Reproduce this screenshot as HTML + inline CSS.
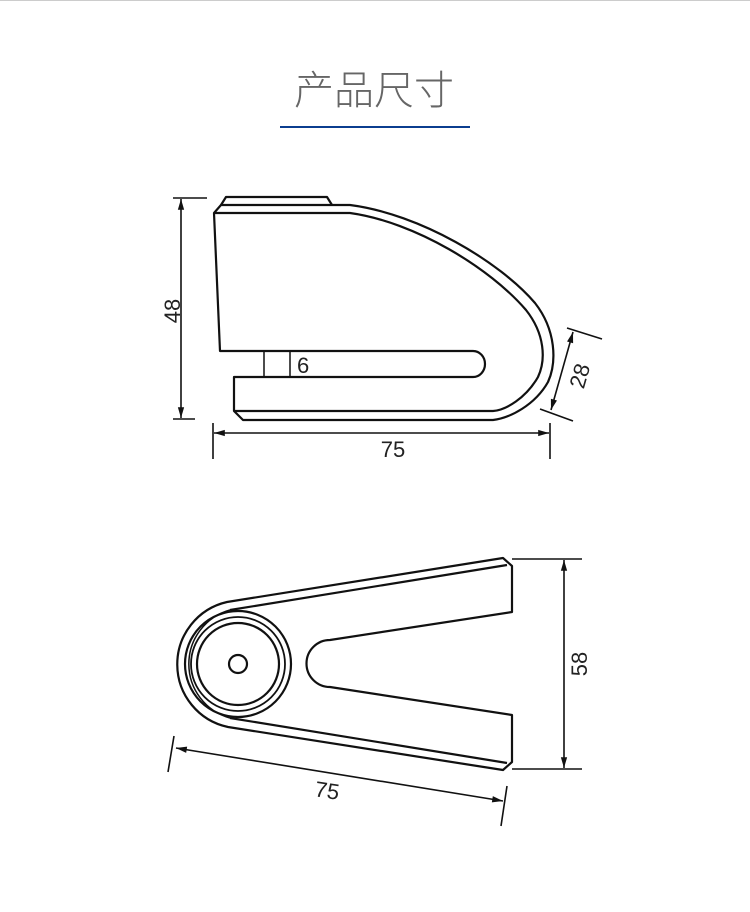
<!DOCTYPE html>
<html><head><meta charset="utf-8"><style>
html,body{margin:0;padding:0;background:#fff;width:750px;height:912px;overflow:hidden}
</style></head><body>
<svg width="750" height="912" viewBox="0 0 750 912" xmlns="http://www.w3.org/2000/svg" style="display:block">
<defs>
<marker id="a" viewBox="0 0 12 10" refX="12" refY="5" markerWidth="12" markerHeight="9" orient="auto-start-reverse" markerUnits="userSpaceOnUse"><path d="M0,1.5 L12,5 L0,8.5 z" fill="#111"/></marker>
</defs>
<line x1="0" y1="0.5" x2="750" y2="0.5" stroke="#ccc" stroke-width="1"/>
<text x="374" y="104" text-anchor="middle" font-family="'Liberation Sans','Noto Sans CJK SC',sans-serif" font-size="40" font-weight="300" fill="#666">产品尺寸</text>
<rect x="280" y="126" width="190" height="2" fill="#0b3d8f"/>

<g fill="none" stroke="#111" stroke-width="2.2" stroke-linejoin="round">
<path d="M221,205 L226,197 L327,197 L332,205"/>
<path d="M214,213 L221,205 L350,205 C420,214 500,262 535,303 C556,330 557,362 548,382 C535,405 510,418 493,420 L243,420 L234,411 L234,377 L473,377 A12,13 0 0 0 473,351 L220,351 L214,213 Z"/>
<path d="M214,213 L350,213 C415,222 490,268 526,310 C545,334 546,360 538,377 C526,398 506,410 493,411 L234,411"/>
<line x1="264" y1="351" x2="264" y2="377" stroke-width="1.5"/>
<line x1="290" y1="351" x2="290" y2="377" stroke-width="1.5"/>
</g>
<g stroke="#111" stroke-width="1.6" fill="none">
<line x1="173" y1="198" x2="207" y2="198"/>
<line x1="173" y1="419" x2="195" y2="419"/>
<line x1="181" y1="199" x2="181" y2="418" marker-start="url(#a)" marker-end="url(#a)"/>
<line x1="213" y1="423" x2="213" y2="459"/>
<line x1="550" y1="423" x2="550" y2="459"/>
<line x1="214" y1="433" x2="549" y2="433" marker-start="url(#a)" marker-end="url(#a)"/>
<line x1="567" y1="328" x2="602" y2="339"/>
<line x1="540" y1="409" x2="573" y2="421"/>
<line x1="573" y1="332" x2="551" y2="410" marker-start="url(#a)" marker-end="url(#a)"/>
</g>
<g font-family="'Liberation Sans',sans-serif" font-size="22" fill="#222">
<text x="297" y="373">6</text>
<text x="393" y="457" text-anchor="middle">75</text>
<text transform="translate(180,311) rotate(-90)" text-anchor="middle">48</text>
<text transform="translate(587,378) rotate(-74)" text-anchor="middle">28</text>
</g>

<g fill="none" stroke="#111" stroke-width="2.2" stroke-linejoin="round">
<path d="M227,602 L503,558 L512,566 L512,612 L330,640 A23,23 0 0 0 330,687 L512,715 L512,762 L503,770 L228,727 A64,64 0 0 1 227,602 Z"/>
<path d="M230,610 L507,565"/>
<path d="M230,718 L507,763"/>
<circle cx="238" cy="664" r="9"/>
<circle cx="238" cy="664" r="41"/>
<circle cx="238" cy="664" r="47" stroke-width="1.8"/>
<circle cx="238" cy="664" r="53"/>
<path d="M230,610 A56,56 0 0 0 230,718" stroke-width="1.5"/>
</g>
<g stroke="#111" stroke-width="1.6" fill="none">
<line x1="512" y1="559" x2="582" y2="559"/>
<line x1="512" y1="769" x2="582" y2="769"/>
<line x1="564" y1="560" x2="564" y2="768" marker-start="url(#a)" marker-end="url(#a)"/>
<line x1="174" y1="736" x2="168" y2="772"/>
<line x1="507" y1="786" x2="501" y2="826"/>
<line x1="176" y1="748" x2="503" y2="801" marker-start="url(#a)" marker-end="url(#a)"/>
</g>
<g font-family="'Liberation Sans',sans-serif" font-size="22" fill="#222">
<text transform="translate(587,664) rotate(-90)" text-anchor="middle">58</text>
<text transform="translate(326,798) rotate(9)" text-anchor="middle">75</text>
</g>
</svg>
</body></html>
